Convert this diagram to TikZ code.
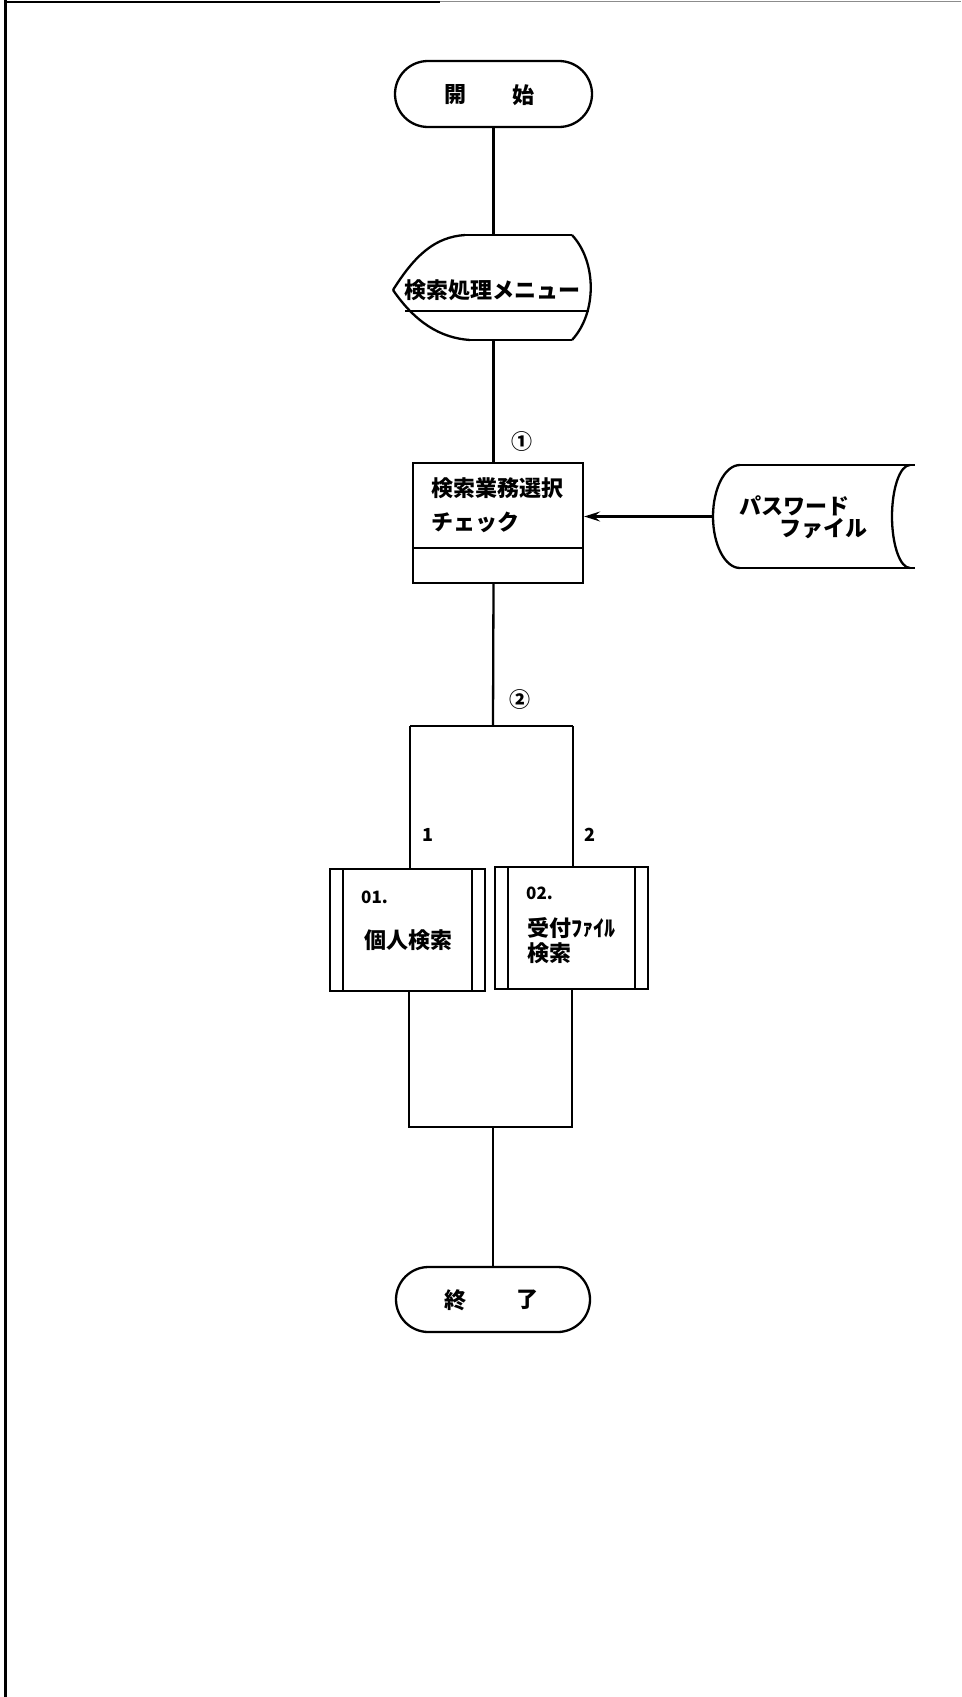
\documentclass[tikz,border=0pt]{standalone}
\usepackage{fontspec}
\newfontfamily\jp{Noto Sans CJK JP}
\usetikzlibrary{shapes.misc,arrows.meta}
\begin{document}
\begin{tikzpicture}[x=1pt,y=-1pt,line width=2.3pt,
  term/.style={draw,rounded rectangle,inner sep=0pt},
  boxed/.style={draw,rectangle,inner sep=0pt},
  ghost/.style={inner sep=0pt},
  jtxt/.style={font=\jp\bfseries\fontsize{22}{22}\selectfont,inner sep=0pt,anchor=west},
  ctxt/.style={font=\jp\bfseries\fontsize{22}{22}\selectfont,inner sep=0pt},
  numtxt/.style={font=\jp\bfseries\fontsize{17}{17}\selectfont,inner sep=0pt,anchor=west},
  circ/.style={font=\jp\bfseries\fontsize{21}{21}\selectfont,inner sep=0pt}]
\useasboundingbox (0,0) rectangle (961,1697);
% frame
\draw[line width=3pt] (5,0) -- (5,1697);
\draw[line width=2.5pt] (5,2) -- (440,2);
\draw[line width=1.5pt,black!45] (440,1.5) -- (961,1.5);

% start
\node[term,minimum width=197pt,minimum height=66pt] (start) at (493.5,94) {};
\node[ctxt] (startA) at (455,95) {開};
\node[ctxt] (startB) at (523,95) {始};

% display (menu)
\node[ghost,minimum width=199pt,minimum height=105pt] (menu) at (493,287.5) {};
\draw (465,235) -- (572,235);
\draw (470,340) -- (572,340);
\draw (393,290) .. controls (415,255) and (435,237) .. (465,235);
\draw (393,290) .. controls (415,322) and (440,338) .. (470,340);
\draw (572,235) .. controls (597,262) and (597,313) .. (572,340);
\draw (405,311) -- (589,311);
\node[ctxt] (menuT) at (492,290) {検索処理メニュー};

% check box
\node[boxed,minimum width=170pt,minimum height=120pt] (chk) at (498,523) {};
\draw (chk.west |- 0,548) -- (chk.east |- 0,548);
\node[jtxt] (chkA) at (430,488) {検索業務選択};
\node[jtxt] (chkB) at (430,522) {チェック};
\node[circ] (c1) at (522,442) {①};

% password file
\node[ghost,minimum width=202pt,minimum height=103pt] (pw) at (814,516.5) {};
\draw (740,465) -- (915,465);
\draw (740,568) -- (915,568);
\draw (740,465) .. controls (725.1,465) and (713,488.1) .. (713,516.5)
               .. controls (713,544.9) and (725.1,568) .. (740,568);
\draw (910,465) .. controls (900.1,465) and (892,488.1) .. (892,516.5)
               .. controls (892,544.9) and (900.1,568) .. (910,568);
\node[jtxt] (pwA) at (738,506) {パスワード};
\node[jtxt] (pwB) at (778,529) {ファイル};
\draw[-{Stealth[length=16pt,width=10pt,inset=6pt]}] (pw.west) -- (chk.east |- pw.west);

% main connectors
\coordinate (split) at (493,726);
\draw (start.south) -- (start.south |- menu.north);
\draw (start.south |- menu.south) -- (start.south |- chk.north);
\draw (start.south |- chk.south) -- (split);
\node[circ] (c2) at (520,700) {②};

% predefined processes
\node[boxed,minimum width=155pt,minimum height=122pt] (p1) at (407.5,930) {};
\draw (343,869) -- (343,991);
\draw (472,869) -- (472,991);
\node[numtxt] (p1n) at (360,897) {01.};
\node[jtxt] (p1t) at (363,940) {個人検索};

\node[boxed,minimum width=153pt,minimum height=122pt] (p2) at (571.5,928) {};
\draw (508,867) -- (508,989);
\draw (635,867) -- (635,989);
\node[numtxt] (p2n) at (525,893) {02.};
\node[jtxt] (p2t) at (526,928) {受付ﾌｧｲﾙ};
\node[jtxt] (p2u) at (526,953) {検索};

% branch
\coordinate (sl) at (410,726);
\coordinate (sr) at (573,726);
\draw (sl) -- (sr);
\draw (sl) -- (sl |- p1.north);
\draw (sr) -- (sr |- p2.north);
\node[numtxt,font=\jp\bfseries\fontsize{18}{18}\selectfont] (l1) at (421,835) {1};
\node[numtxt,font=\jp\bfseries\fontsize{18}{18}\selectfont] (l2) at (583,835) {2};

% merge
\node[term,minimum width=194pt,minimum height=65pt] (end) at (493,1299.5) {};
\node[ctxt] (endA) at (455,1300) {終};
\node[ctxt] (endB) at (527,1300) {了};
\coordinate (ml) at (409,1127);
\coordinate (mr) at (572,1127);
\draw (ml |- p1.south) -- (ml) -- (mr) -- (mr |- p2.south);
\draw (end.north |- ml) -- (end.north);
\end{tikzpicture}
\end{document}
